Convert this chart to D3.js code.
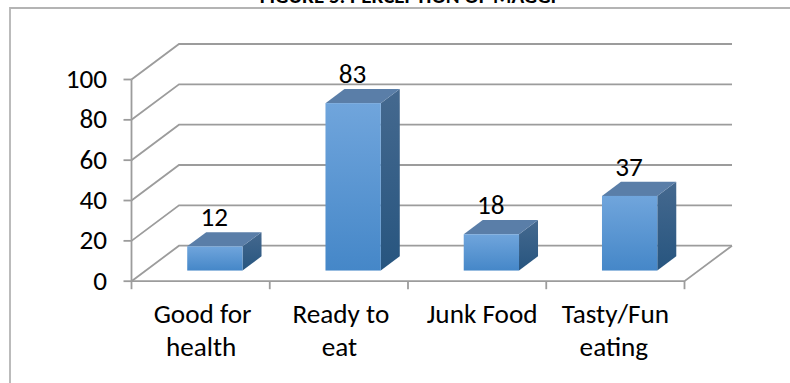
<!DOCTYPE html>
<html><head><meta charset="utf-8">
<script src="https://cdn.jsdelivr.net/npm/d3@7"></script>
<style>html,body{margin:0;padding:0;background:#fff}svg{display:block}text{font-family:Carlito,Calibri,Lato,sans-serif;fill:#000}</style>
</head><body><svg id="c" width="790" height="383"></svg>
<script>
const categories=[["Good for","health"],["Ready to","eat"],["Junk Food"],["Tasty/Fun","eating"]];
const values=[12,83,18,37];
const yTicks=[0,20,40,60,80,100];
const titleText="FIGURE 5: PERCEPTION OF MAGGI";
const svg=d3.select("#c");
const x=d3.scaleBand().domain(d3.range(categories.length)).range([131.5,684.5]);
const y=d3.scaleLinear().domain([0,100]).range([281.2,79.5]);
const dX=47.5,dY=-35.5;
const grid="#9c9c9c";
const labelNudge=[2,2,5,0];
const defs=svg.append("defs");
function grad(id,a,b){const g=defs.append("linearGradient").attr("id",id).attr("x1",0).attr("y1",0).attr("x2",0).attr("y2",1);
 g.append("stop").attr("offset","0%").attr("stop-color",a);g.append("stop").attr("offset","100%").attr("stop-color",b);}
grad("front","#70a5dc","#4587c8");
grad("side","#45698f","#27557f");
svg.append("path").attr("d","M10,383V8H790").attr("fill","none").attr("stroke","#b4b4b4").attr("stroke-width",1.8);
svg.append("text").attr("x",408).attr("y",3).attr("text-anchor","middle").attr("font-size",21).attr("font-weight",700).text(titleText);
const gr=svg.append("g").attr("fill","none").attr("stroke",grid).attr("stroke-width",1.8);
yTicks.forEach(t=>{
 const yy=y(t);
 gr.append("path").attr("d",`M${x.range()[0]},${yy}L${x.range()[0]+dX},${yy+dY}H${x.range()[1]+dX}`);
 gr.append("path").attr("d",`M${x.range()[0]-8},${yy}H${x.range()[0]}`);
 svg.append("text").attr("x",107).attr("y",yy+8.5).attr("text-anchor","end").attr("font-size",27.2).text(t);
});
gr.append("path").attr("d",`M${x.range()[0]},${y(100)}V${y(0)}H${x.range()[1]}L${x.range()[1]+dX},${y(0)+dY}`);
d3.range(categories.length+1).forEach(i=>{
 const xx=x.range()[0]+i*x.step();
 gr.append("path").attr("d",`M${xx},${y(0)}v8`);
});
const barW=x.bandwidth()*0.4;
const f0=0.3,f1=0.7;
values.forEach((v,i)=>{
 const cx=x(i)+x.bandwidth()/2;
 const xl=cx-barW/2+dX*f0,xr=xl+barW;
 const yb=y(0)+dY*f0,yt=y(v)+dY*f0;
 const ox=dX*(f1-f0),oy=dY*(f1-f0);
 svg.append("path").attr("fill","url(#side)").attr("d",`M${xr},${yt}l${ox},${oy}V${yb+oy}L${xr},${yb}Z`);
 svg.append("path").attr("fill","#5a7ea8").attr("d",`M${xl},${yt}l${ox},${oy}h${barW}l${-ox},${-oy}Z`);
 svg.append("rect").attr("x",xl).attr("y",yt).attr("width",barW).attr("height",yb-yt).attr("fill","url(#front)");
 svg.append("text").attr("x",xl+barW/2-0.5).attr("y",yt+oy-6).attr("text-anchor","middle").attr("font-size",27.2).text(v);
 const lab=svg.append("text").attr("text-anchor","middle").attr("font-size",27.2);
 categories[i].forEach((s,j)=>lab.append("tspan").attr("x",cx+labelNudge[i]-(j?1.5:0)).attr("y",323+j*32.5).text(s));
});
</script></body></html>
